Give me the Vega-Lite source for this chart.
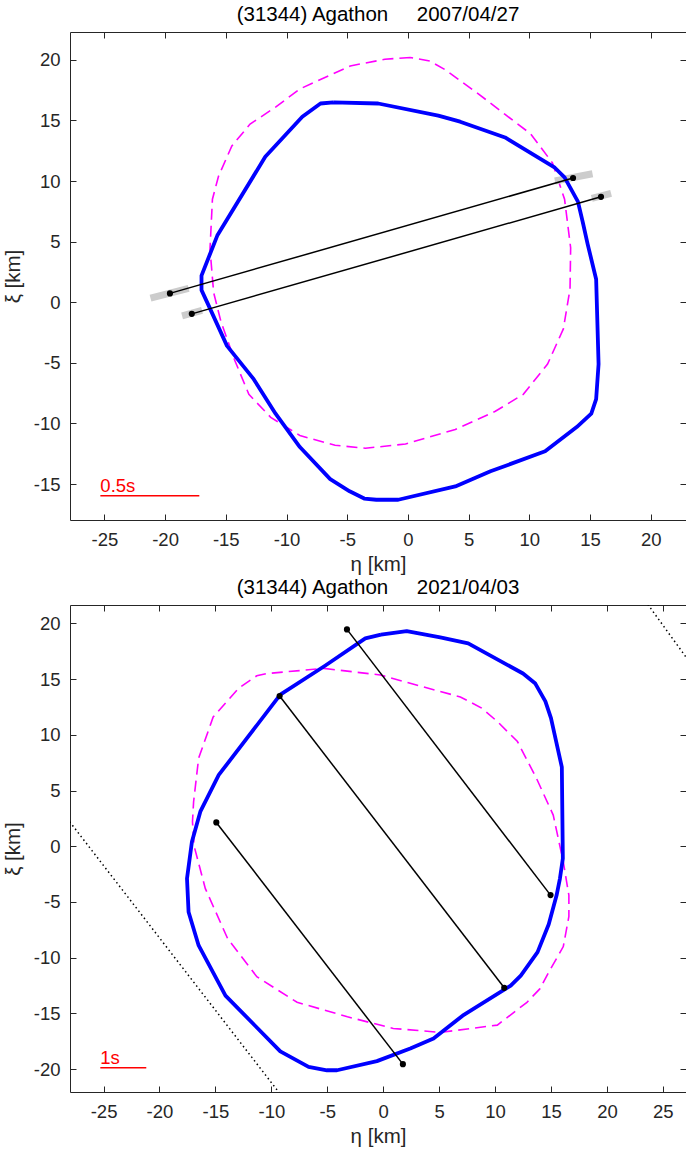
{
  "$schema": "https://vega.github.io/schema/vega-lite/v6.json",
  "padding": {"left": 3, "top": 4, "right": 0, "bottom": 0},
  "spacing": 1,
  "config": {
    "font": "Liberation Sans",
    "view": {"stroke": "#262626", "strokeWidth": 1},
    "axis": {"domain": false, "grid": false, "labelFont": "Liberation Sans", "labelFontSize": 18.5, "labelColor": "#262626", "tickColor": "#262626", "tickSize": -6, "labelPadding": 16, "labelExpr": "replace(datum.label, '\u2212', '-')", "titleFont": "Liberation Sans", "titleFontSize": 20.5, "titleFontWeight": "normal", "titleColor": "#262626"},
    "title": {"font": "Liberation Sans", "fontSize": 20.5, "fontWeight": "normal", "color": "black", "offset": 6, "anchor": "middle"}
  },
  "datasets": {
    "top": [
      {"g": "model", "i": 0, "x": 0.2, "y": 20.2}, {"g": "model", "i": 1, "x": -1.9, "y": 20.05}, {"g": "model", "i": 2, "x": -4.75, "y": 19.5}, {"g": "model", "i": 3, "x": -8.9, "y": 17.6}, {"g": "model", "i": 4, "x": -10.9, "y": 16.1}, {"g": "model", "i": 5, "x": -13.0, "y": 14.7}, {"g": "model", "i": 6, "x": -14.5, "y": 12.9}, {"g": "model", "i": 7, "x": -15.6, "y": 10.4}, {"g": "model", "i": 8, "x": -16.1, "y": 8.5}, {"g": "model", "i": 9, "x": -16.3, "y": 4.4}, {"g": "model", "i": 10, "x": -16.0, "y": 0.8}, {"g": "model", "i": 11, "x": -15.4, "y": -1.6}, {"g": "model", "i": 12, "x": -14.3, "y": -4.7}, {"g": "model", "i": 13, "x": -13.1, "y": -7.6}, {"g": "model", "i": 14, "x": -11.3, "y": -9.5}, {"g": "model", "i": 15, "x": -8.9, "y": -11.0}, {"g": "model", "i": 16, "x": -6.0, "y": -11.8}, {"g": "model", "i": 17, "x": -3.5, "y": -12.05}, {"g": "model", "i": 18, "x": -0.2, "y": -11.7}, {"g": "model", "i": 19, "x": 3.9, "y": -10.5}, {"g": "model", "i": 20, "x": 7.2, "y": -9.0}, {"g": "model", "i": 21, "x": 9.5, "y": -7.6}, {"g": "model", "i": 22, "x": 11.5, "y": -5.1}, {"g": "model", "i": 23, "x": 12.8, "y": -2.2}, {"g": "model", "i": 24, "x": 13.35, "y": 1.1}, {"g": "model", "i": 25, "x": 13.4, "y": 4.5}, {"g": "model", "i": 26, "x": 12.9, "y": 8.5}, {"g": "model", "i": 27, "x": 11.9, "y": 11.5}, {"g": "model", "i": 28, "x": 10.1, "y": 13.9}, {"g": "model", "i": 29, "x": 8.0, "y": 15.5}, {"g": "model", "i": 30, "x": 5.8, "y": 17.2}, {"g": "model", "i": 31, "x": 3.05, "y": 19.2}, {"g": "model", "i": 32, "x": 1.8, "y": 19.9}, {"g": "model", "i": 33, "x": 0.2, "y": 20.2},
      {"g": "shape", "i": 0, "x": -6.15, "y": 16.5}, {"g": "shape", "i": 1, "x": -2.45, "y": 16.4}, {"g": "shape", "i": 2, "x": 2.5, "y": 15.4}, {"g": "shape", "i": 3, "x": 4.3, "y": 14.9}, {"g": "shape", "i": 4, "x": 8.0, "y": 13.6}, {"g": "shape", "i": 5, "x": 12.1, "y": 11.1}, {"g": "shape", "i": 6, "x": 12.9, "y": 10.3}, {"g": "shape", "i": 7, "x": 14.0, "y": 8.3}, {"g": "shape", "i": 8, "x": 14.4, "y": 6.6}, {"g": "shape", "i": 9, "x": 14.8, "y": 4.8}, {"g": "shape", "i": 10, "x": 15.5, "y": 1.9}, {"g": "shape", "i": 11, "x": 15.7, "y": -5.1}, {"g": "shape", "i": 12, "x": 15.5, "y": -8.0}, {"g": "shape", "i": 13, "x": 15.1, "y": -9.2}, {"g": "shape", "i": 14, "x": 13.9, "y": -10.3}, {"g": "shape", "i": 15, "x": 11.3, "y": -12.3}, {"g": "shape", "i": 16, "x": 6.8, "y": -13.95}, {"g": "shape", "i": 17, "x": 3.9, "y": -15.2}, {"g": "shape", "i": 18, "x": -0.8, "y": -16.3}, {"g": "shape", "i": 19, "x": -2.6, "y": -16.3}, {"g": "shape", "i": 20, "x": -3.6, "y": -16.2}, {"g": "shape", "i": 21, "x": -4.8, "y": -15.6}, {"g": "shape", "i": 22, "x": -6.4, "y": -14.6}, {"g": "shape", "i": 23, "x": -8.9, "y": -11.95}, {"g": "shape", "i": 24, "x": -10.9, "y": -9.2}, {"g": "shape", "i": 25, "x": -12.7, "y": -6.35}, {"g": "shape", "i": 26, "x": -14.9, "y": -3.6}, {"g": "shape", "i": 27, "x": -16.4, "y": -0.3}, {"g": "shape", "i": 28, "x": -17.0, "y": 1.0}, {"g": "shape", "i": 29, "x": -17.0, "y": 2.2}, {"g": "shape", "i": 30, "x": -15.7, "y": 5.5}, {"g": "shape", "i": 31, "x": -11.75, "y": 12.0}, {"g": "shape", "i": 32, "x": -8.7, "y": 15.3}, {"g": "shape", "i": 33, "x": -7.2, "y": 16.4}, {"g": "shape", "i": 34, "x": -6.15, "y": 16.5},
      {"g": "e1a", "i": 0, "x": -21.2, "y": 0.34}, {"g": "e1a", "i": 1, "x": -18.06, "y": 1.14},
      {"g": "e1b", "i": 0, "x": 12.1, "y": 10.0}, {"g": "e1b", "i": 1, "x": 15.2, "y": 10.6},
      {"g": "e2a", "i": 0, "x": -18.6, "y": -1.12}, {"g": "e2a", "i": 1, "x": -16.96, "y": -0.68},
      {"g": "e2b", "i": 0, "x": 15.14, "y": 8.57}, {"g": "e2b", "i": 1, "x": 16.73, "y": 8.98},
      {"g": "c1", "i": 0, "x": -19.6, "y": 0.73}, {"g": "c1", "i": 1, "x": 13.6, "y": 10.25},
      {"g": "c2", "i": 0, "x": -17.8, "y": -0.96}, {"g": "c2", "i": 1, "x": 15.9, "y": 8.7},
      {"g": "bar", "i": 0, "x": -25.33, "x2": -17.18, "y": -15.97, "label": "0.5s"}
    ],
    "bottom": [
      {"g": "dot1", "i": 0, "x": -30.0, "y": 4.76}, {"g": "dot1", "i": 1, "x": -8.0, "y": -23.8},
      {"g": "dot2", "i": 0, "x": 22.0, "y": 24.0}, {"g": "dot2", "i": 1, "x": 29.0, "y": 14.3},
      {"g": "model", "i": 0, "x": -5.3, "y": 15.96}, {"g": "model", "i": 1, "x": -0.26, "y": 15.37}, {"g": "model", "i": 2, "x": 3.6, "y": 14.3}, {"g": "model", "i": 3, "x": 6.9, "y": 13.4}, {"g": "model", "i": 4, "x": 8.8, "y": 12.4}, {"g": "model", "i": 5, "x": 10.2, "y": 11.2}, {"g": "model", "i": 6, "x": 12.0, "y": 9.4}, {"g": "model", "i": 7, "x": 13.7, "y": 6.1}, {"g": "model", "i": 8, "x": 15.2, "y": 2.8}, {"g": "model", "i": 9, "x": 16.1, "y": -1.4}, {"g": "model", "i": 10, "x": 16.6, "y": -4.4}, {"g": "model", "i": 11, "x": 16.6, "y": -6.3}, {"g": "model", "i": 12, "x": 16.1, "y": -9.0}, {"g": "model", "i": 13, "x": 14.8, "y": -11.3}, {"g": "model", "i": 14, "x": 14.0, "y": -12.8}, {"g": "model", "i": 15, "x": 12.85, "y": -14.0}, {"g": "model", "i": 16, "x": 10.2, "y": -16.05}, {"g": "model", "i": 17, "x": 5.1, "y": -16.7}, {"g": "model", "i": 18, "x": 0.9, "y": -16.35}, {"g": "model", "i": 19, "x": -3.2, "y": -15.3}, {"g": "model", "i": 20, "x": -7.7, "y": -14.0}, {"g": "model", "i": 21, "x": -11.3, "y": -11.7}, {"g": "model", "i": 22, "x": -13.9, "y": -8.3}, {"g": "model", "i": 23, "x": -15.9, "y": -3.8}, {"g": "model", "i": 24, "x": -16.9, "y": 0.0}, {"g": "model", "i": 25, "x": -17.05, "y": 2.2}, {"g": "model", "i": 26, "x": -16.95, "y": 4.0}, {"g": "model", "i": 27, "x": -16.5, "y": 7.9}, {"g": "model", "i": 28, "x": -15.2, "y": 11.6}, {"g": "model", "i": 29, "x": -12.9, "y": 14.2}, {"g": "model", "i": 30, "x": -11.3, "y": 15.3}, {"g": "model", "i": 31, "x": -10.4, "y": 15.5}, {"g": "model", "i": 32, "x": -5.3, "y": 15.96},
      {"g": "shape", "i": 0, "x": -0.2, "y": 19.0}, {"g": "shape", "i": 1, "x": 2.1, "y": 19.3}, {"g": "shape", "i": 2, "x": 5.1, "y": 18.75}, {"g": "shape", "i": 3, "x": 7.6, "y": 18.2}, {"g": "shape", "i": 4, "x": 12.5, "y": 15.5}, {"g": "shape", "i": 5, "x": 13.6, "y": 14.6}, {"g": "shape", "i": 6, "x": 14.5, "y": 13.0}, {"g": "shape", "i": 7, "x": 15.0, "y": 11.5}, {"g": "shape", "i": 8, "x": 15.97, "y": 7.1}, {"g": "shape", "i": 9, "x": 16.06, "y": -1.1}, {"g": "shape", "i": 10, "x": 15.8, "y": -2.9}, {"g": "shape", "i": 11, "x": 15.5, "y": -4.4}, {"g": "shape", "i": 12, "x": 14.8, "y": -7.0}, {"g": "shape", "i": 13, "x": 13.8, "y": -9.5}, {"g": "shape", "i": 14, "x": 12.3, "y": -11.6}, {"g": "shape", "i": 15, "x": 11.4, "y": -12.5}, {"g": "shape", "i": 16, "x": 10.75, "y": -12.9}, {"g": "shape", "i": 17, "x": 7.1, "y": -15.2}, {"g": "shape", "i": 18, "x": 4.5, "y": -17.25}, {"g": "shape", "i": 19, "x": 2.42, "y": -18.15}, {"g": "shape", "i": 20, "x": -0.56, "y": -19.28}, {"g": "shape", "i": 21, "x": -4.13, "y": -20.1}, {"g": "shape", "i": 22, "x": -5.03, "y": -20.1}, {"g": "shape", "i": 23, "x": -6.67, "y": -19.8}, {"g": "shape", "i": 24, "x": -9.2, "y": -18.4}, {"g": "shape", "i": 25, "x": -14.1, "y": -13.4}, {"g": "shape", "i": 26, "x": -16.5, "y": -8.9}, {"g": "shape", "i": 27, "x": -17.4, "y": -5.9}, {"g": "shape", "i": 28, "x": -17.54, "y": -2.9}, {"g": "shape", "i": 29, "x": -17.1, "y": 0.4}, {"g": "shape", "i": 30, "x": -16.35, "y": 3.1}, {"g": "shape", "i": 31, "x": -14.7, "y": 6.4}, {"g": "shape", "i": 32, "x": -9.2, "y": 13.6}, {"g": "shape", "i": 33, "x": -5.2, "y": 16.2}, {"g": "shape", "i": 34, "x": -1.6, "y": 18.65}, {"g": "shape", "i": 35, "x": -0.2, "y": 19.0},
      {"g": "cA", "i": 0, "x": -3.24, "y": 19.46}, {"g": "cA", "i": 1, "x": 14.96, "y": -4.38},
      {"g": "cB", "i": 0, "x": -9.26, "y": 13.48}, {"g": "cB", "i": 1, "x": 10.82, "y": -12.7},
      {"g": "cC", "i": 0, "x": -14.92, "y": 2.14}, {"g": "cC", "i": 1, "x": 1.76, "y": -19.55},
      {"g": "bar", "i": 0, "x": -25.29, "x2": -21.18, "y": -19.88, "label": "1s"}
    ]
  },
  "vconcat": [
    {
      "width": 616,
      "height": 488,
      "title": {"text": "(31344) Agathon\u00a0\u00a0\u00a0\u00a0\u00a02007/04/27"},
      "data": {"name": "top"},
      "resolve": {"axis": {"x": "independent", "y": "independent"}},
      "layer": [
        {
          "transform": [{"filter": "datum.g === 'model'"}],
          "mark": {"type": "line", "color": "#ff00ff", "strokeWidth": 1.6, "strokeDash": [11, 6]},
          "encoding": {
            "x": {"field": "x", "type": "quantitative", "scale": {"domain": [-27.83, 22.9], "nice": false, "zero": false}, "axis": {"orient": "bottom", "values": [-25, -20, -15, -10, -5, 0, 5, 10, 15, 20], "title": "η [km]", "titlePadding": 6}},
            "y": {"field": "y", "type": "quantitative", "scale": {"domain": [-17.97, 22.3], "nice": false, "zero": false}, "axis": {"orient": "left", "values": [-15, -10, -5, 0, 5, 10, 15, 20], "title": "ξ [km]", "titlePadding": 9.5}},
            "order": {"field": "i"}
          }
        },
        {
          "transform": [{"filter": "indexof(['e1a','e1b','e2a','e2b'], datum.g) >= 0"}],
          "mark": {"type": "line", "color": "#cccccc", "strokeWidth": 7, "strokeCap": "butt"},
          "encoding": {
            "x": {"field": "x", "type": "quantitative", "axis": null},
            "y": {"field": "y", "type": "quantitative", "axis": null},
            "detail": {"field": "g"},
            "order": {"field": "i"}
          }
        },
        {
          "transform": [{"filter": "datum.g === 'shape'"}],
          "mark": {"type": "line", "color": "#0000ff", "strokeWidth": 3.8, "strokeJoin": "round"},
          "encoding": {
            "x": {"field": "x", "type": "quantitative", "axis": {"orient": "top", "values": [-25, -20, -15, -10, -5, 0, 5, 10, 15, 20], "labels": false, "title": null}},
            "y": {"field": "y", "type": "quantitative", "axis": {"orient": "right", "values": [-15, -10, -5, 0, 5, 10, 15, 20], "labels": false, "title": null}},
            "order": {"field": "i"}
          }
        },
        {
          "transform": [{"filter": "datum.g === 'c1' || datum.g === 'c2'"}],
          "mark": {"type": "line", "color": "black", "strokeWidth": 1.5},
          "encoding": {
            "x": {"field": "x", "type": "quantitative", "axis": null},
            "y": {"field": "y", "type": "quantitative", "axis": null},
            "detail": {"field": "g"},
            "order": {"field": "i"}
          }
        },
        {
          "transform": [{"filter": "datum.g === 'c1' || datum.g === 'c2'"}],
          "mark": {"type": "point", "filled": true, "color": "black", "size": 38, "opacity": 1},
          "encoding": {
            "x": {"field": "x", "type": "quantitative", "axis": null},
            "y": {"field": "y", "type": "quantitative", "axis": null}
          }
        },
        {
          "transform": [{"filter": "datum.g === 'bar'"}],
          "mark": {"type": "rule", "color": "#ff0000", "strokeWidth": 1.5},
          "encoding": {
            "x": {"field": "x", "type": "quantitative", "axis": null},
            "x2": {"field": "x2"},
            "y": {"field": "y", "type": "quantitative", "axis": null}
          }
        },
        {
          "transform": [{"filter": "datum.g === 'bar'"}],
          "mark": {"type": "text", "color": "#ff0000", "fontSize": 18.5, "align": "left", "baseline": "alphabetic", "dy": -3.5, "font": "Liberation Sans"},
          "encoding": {
            "x": {"field": "x", "type": "quantitative", "axis": null},
            "y": {"field": "y", "type": "quantitative", "axis": null},
            "text": {"field": "label"}
          }
        }
      ]
    },
    {
      "width": 616,
      "height": 487,
      "title": {"text": "(31344) Agathon\u00a0\u00a0\u00a0\u00a0\u00a02021/04/03"},
      "data": {"name": "bottom"},
      "resolve": {"axis": {"x": "independent", "y": "independent"}},
      "layer": [
        {
          "transform": [{"filter": "datum.g === 'dot1' || datum.g === 'dot2'"}],
          "mark": {"type": "line", "color": "black", "strokeWidth": 1.5, "strokeDash": [1.5, 3], "clip": true},
          "encoding": {
            "x": {"field": "x", "type": "quantitative", "scale": {"domain": [-28.0, 27.07], "nice": false, "zero": false}, "axis": {"orient": "bottom", "values": [-25, -20, -15, -10, -5, 0, 5, 10, 15, 20, 25], "title": "η [km]", "titlePadding": 6}},
            "y": {"field": "y", "type": "quantitative", "scale": {"domain": [-22.05, 21.65], "nice": false, "zero": false}, "axis": {"orient": "left", "values": [-20, -15, -10, -5, 0, 5, 10, 15, 20], "title": "ξ [km]", "titlePadding": 9.5}},
            "detail": {"field": "g"},
            "order": {"field": "i"}
          }
        },
        {
          "transform": [{"filter": "datum.g === 'model'"}],
          "mark": {"type": "line", "color": "#ff00ff", "strokeWidth": 1.6, "strokeDash": [11, 6]},
          "encoding": {
            "x": {"field": "x", "type": "quantitative", "axis": null},
            "y": {"field": "y", "type": "quantitative", "axis": null},
            "order": {"field": "i"}
          }
        },
        {
          "transform": [{"filter": "datum.g === 'shape'"}],
          "mark": {"type": "line", "color": "#0000ff", "strokeWidth": 3.8, "strokeJoin": "round"},
          "encoding": {
            "x": {"field": "x", "type": "quantitative", "axis": {"orient": "top", "values": [-25, -20, -15, -10, -5, 0, 5, 10, 15, 20, 25], "labels": false, "title": null}},
            "y": {"field": "y", "type": "quantitative", "axis": {"orient": "right", "values": [-20, -15, -10, -5, 0, 5, 10, 15, 20], "labels": false, "title": null}},
            "order": {"field": "i"}
          }
        },
        {
          "transform": [{"filter": "indexof(['cA','cB','cC'], datum.g) >= 0"}],
          "mark": {"type": "line", "color": "black", "strokeWidth": 1.5},
          "encoding": {
            "x": {"field": "x", "type": "quantitative", "axis": null},
            "y": {"field": "y", "type": "quantitative", "axis": null},
            "detail": {"field": "g"},
            "order": {"field": "i"}
          }
        },
        {
          "transform": [{"filter": "indexof(['cA','cB','cC'], datum.g) >= 0"}],
          "mark": {"type": "point", "filled": true, "color": "black", "size": 38, "opacity": 1},
          "encoding": {
            "x": {"field": "x", "type": "quantitative", "axis": null},
            "y": {"field": "y", "type": "quantitative", "axis": null}
          }
        },
        {
          "transform": [{"filter": "datum.g === 'bar'"}],
          "mark": {"type": "rule", "color": "#ff0000", "strokeWidth": 1.5},
          "encoding": {
            "x": {"field": "x", "type": "quantitative", "axis": null},
            "x2": {"field": "x2"},
            "y": {"field": "y", "type": "quantitative", "axis": null}
          }
        },
        {
          "transform": [{"filter": "datum.g === 'bar'"}],
          "mark": {"type": "text", "color": "#ff0000", "fontSize": 18.5, "align": "left", "baseline": "alphabetic", "dy": -3.5, "font": "Liberation Sans"},
          "encoding": {
            "x": {"field": "x", "type": "quantitative", "axis": null},
            "y": {"field": "y", "type": "quantitative", "axis": null},
            "text": {"field": "label"}
          }
        }
      ]
    }
  ]
}
